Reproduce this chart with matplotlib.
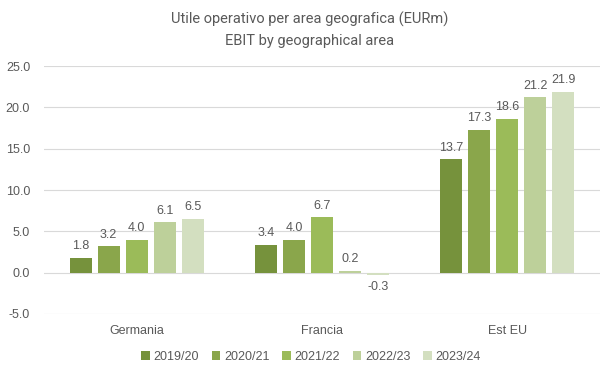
import matplotlib
matplotlib.use("Agg")
import matplotlib.pyplot as plt
import numpy as np

categories = ["Germania", "Francia", "Est EU"]
series = ["2019/20", "2020/21", "2021/22", "2022/23", "2023/24"]
values = {
    "2019/20": [1.8, 3.4, 13.7],
    "2020/21": [3.2, 4.0, 17.3],
    "2021/22": [4.0, 6.7, 18.6],
    "2022/23": [6.1, 0.2, 21.2],
    "2023/24": [6.5, -0.3, 21.9],
}
colors = ["#76923c", "#8aa64b", "#9bbb59", "#bdd09a", "#d3dfc0"]
yticks = [-5, 0, 5, 10, 15, 20, 25]

txt = "#595959"
plt.rcParams['font.family'] = ['Liberation Sans', 'DejaVu Sans']

fig = plt.figure(figsize=(6.16, 3.79), dpi=100)
ax = fig.add_axes([44/616, 1-314/379, (600-44)/616, (314-66)/379])

x = np.arange(len(categories))
w = 0.119
step = 0.151
for i, s in enumerate(series):
    off = (i - 2) * step
    ax.bar(x + off, values[s], width=w, color=colors[i], label=s, zorder=3)
    for xi, v in zip(x + off, values[s]):
        if v >= 0:
            ax.annotate(f"{v:.1f}", (xi, v), xytext=(0, 4), textcoords="offset points",
                        ha="center", va="bottom", fontsize=9, color=txt)
        else:
            ax.annotate(f"{v:.1f}", (xi, v), xytext=(0, -4), textcoords="offset points",
                        ha="center", va="top", fontsize=9, color=txt)

ax.set_xlim(-0.5, 2.5)
ax.set_ylim(-5, 25)
ax.set_yticks(yticks)
ax.set_yticklabels([f"{t:.1f}" for t in yticks])
ax.yaxis.grid(True, color="#d9d9d9", linewidth=0.8, zorder=0)
ax.set_xticks(x)
ax.set_xticklabels(categories)
ax.tick_params(axis='both', length=0, colors=txt, labelsize=9)
ax.tick_params(axis='x', pad=8)
ax.tick_params(axis='y', pad=10)
for sp in ax.spines.values():
    sp.set_visible(False)

tfam = ['Roboto', 'Liberation Sans', 'DejaVu Sans']
fig.text(0.503, 1-19/379, "Utile operativo per area geografica (EURm)", ha="center", va="center",
         fontsize=10.5, color=txt, family=tfam)
fig.text(0.503, 1-41/379, "EBIT by geographical area", ha="center", va="center",
         fontsize=10.5, color=txt, family=tfam)

fig.legend(loc="center", bbox_to_anchor=(0.505, 1-357/379), ncol=5, frameon=False,
           fontsize=9, handlelength=0.7, handleheight=0.7, handletextpad=0.3,
           columnspacing=1.0, labelcolor=txt)

fig.savefig("out.png", dpi=100)
